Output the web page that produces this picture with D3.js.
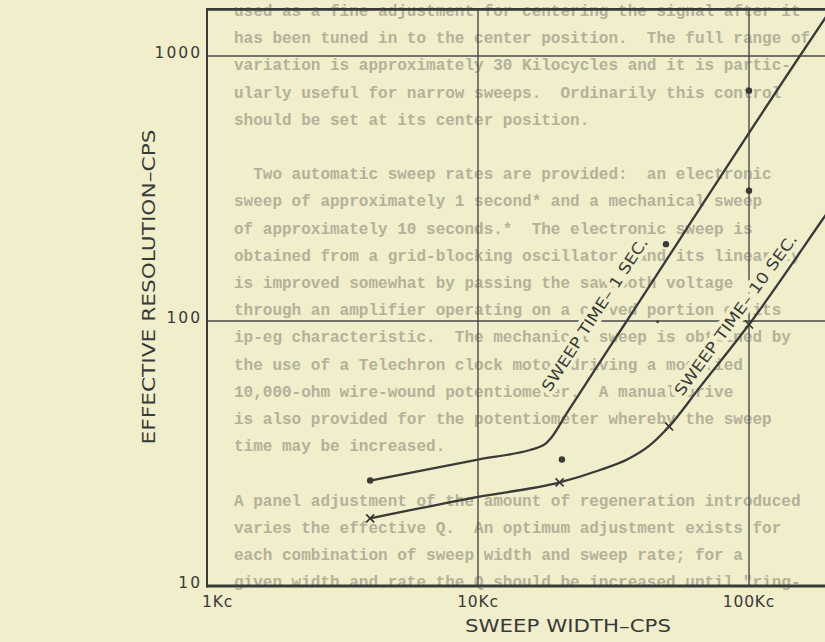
<!DOCTYPE html>
<html>
<head>
<meta charset="utf-8">
<script src="https://cdn.jsdelivr.net/npm/d3@7/dist/d3.min.js"></script>
<style>
  html, body { margin: 0; padding: 0; background: #f0eecb; }
  svg { display: block; }
</style>
</head>
<body>
<svg id="chart" width="825" height="642"></svg>
<script>
// ---------- data ----------
const xTickValues = [1e3, 1e4, 1e5];
const xTickLabels = ["1Kc", "10Kc", "100Kc"];
const yTickValues = [10, 100, 1000];
const yTickLabels = ["10", "100", "1000"];
const xTitle = "SWEEP WIDTH–CPS";
const yTitle = "EFFECTIVE RESOLUTION–CPS";

// sweep width (cps) vs effective resolution (cps)
const sweep1Sec = [[4000,25],[10000,30],[15560,32.6],[16650,33.3],[17670,34.3],[18600,36.2],[21300,45],[35400,100],[154000,1000],[200000,1490]];
const sweep10Sec = [[4000,18],[10000,21.7],[20000,24.6],[28200,27.4],[35500,30],[43100,34],[50700,40],[66000,56.4],[100000,97],[186000,240],[260000,395]];
const sweep1Markers = [[4000,25]];
const sweep10Markers = [[4000,18],[20000,24.6],[50700,40],[100000,97]];
const measuredDots = [[20400,30],[49400,195],[100000,740],[100000,310]];
const faintDots = [[46000,101]];
const label1 = "SWEEP TIME– 1 SEC.";
const label10 = "SWEEP TIME– 10 SEC.";
const frameTop = 1500;     // top edge of the printed grid (cps)
const frameRight = 1e6;    // grid runs off the page

// typed page text showing through the chart sheet
const pageText = [
  "used as a fine adjustment for centering the signal after it",
  "has been tuned in to the center position.  The full range of",
  "variation is approximately 30 Kilocycles and it is partic-",
  "ularly useful for narrow sweeps.  Ordinarily this control",
  "should be set at its center position.",
  "",
  "  Two automatic sweep rates are provided:  an electronic",
  "sweep of approximately 1 second* and a mechanical sweep",
  "of approximately 10 seconds.*  The electronic sweep is",
  "obtained from a grid-blocking oscillator, and its linearity",
  "is improved somewhat by passing the sawtooth voltage",
  "through an amplifier operating on a curved portion of its",
  "ip-eg characteristic.  The mechanical sweep is obtained by",
  "the use of a Telechron clock motor driving a modified",
  "10,000-ohm wire-wound potentiometer.  A manual drive",
  "is also provided for the potentiometer whereby the sweep",
  "time may be increased.",
  "",
  "A panel adjustment of the amount of regeneration introduced",
  "varies the effective Q.  An optimum adjustment exists for",
  "each combination of sweep width and sweep rate; for a",
  "given width and rate the Q should be increased until \"ring-"
];

// ---------- drawing ----------
const bg = "#f0eecb", ink = "#3a3a38";
const svg = d3.select("#chart");
const x = d3.scaleLog().domain([1e3, 1e5]).range([207, 749]);
const y = d3.scaleLog().domain([10, 1000]).range([586, 56]);
const font = "'DejaVu Sans', 'Liberation Sans', sans-serif";

// faint page text underneath
svg.append("g")
  .attr("font-family", "'Liberation Mono', 'DejaVu Sans Mono', monospace")
  .attr("font-size", 16).attr("font-weight", "bold")
  .attr("fill", "#b4b19a")
  .selectAll("text").data(pageText).join("text")
  .attr("x", 234).attr("y", (d, i) => 16 + i * 27.2)
  .attr("xml:space", "preserve").style("white-space", "pre")
  .text(d => d);

const grid = svg.append("g");
grid.selectAll("line.h").data([100, 1000]).join("line")
  .attr("x1", x(1e3)).attr("x2", x(frameRight))
  .attr("y1", d => y(d)).attr("y2", d => y(d))
  .attr("stroke", "#4a4a48").attr("stroke-width", 1.5);
grid.selectAll("line.v").data([1e4, 1e5]).join("line")
  .attr("x1", d => x(d)).attr("x2", d => x(d))
  .attr("y1", y(10)).attr("y2", y(frameTop))
  .attr("stroke", "#4a4a48").attr("stroke-width", 1.4);
grid.append("line").attr("x1", x(1e3) - 1).attr("x2", x(frameRight))
  .attr("y1", y(frameTop)).attr("y2", y(frameTop))
  .attr("stroke", ink).attr("stroke-width", 2.6);
grid.append("line").attr("x1", x(1e3)).attr("x2", x(1e3))
  .attr("y1", y(10) + 1.5).attr("y2", y(frameTop) - 1)
  .attr("stroke", ink).attr("stroke-width", 2);
grid.append("line").attr("x1", x(1e3) - 1).attr("x2", x(frameRight))
  .attr("y1", y(10)).attr("y2", y(10))
  .attr("stroke", ink).attr("stroke-width", 3);

// tick labels
svg.append("g").selectAll("text").data(yTickValues).join("text")
  .attr("x", x(1e3) - 5).attr("y", d => y(d) - 3)
  .attr("text-anchor", "end").attr("dominant-baseline", "central")
  .attr("font-family", font).attr("font-size", 15.5).attr("letter-spacing", 2)
  .attr("fill", ink)
  .text((d, i) => yTickLabels[i]);
svg.append("g").selectAll("text").data(xTickValues).join("text")
  .attr("x", (d, i) => i === 0 ? x(d) - 5 : x(d))
  .attr("y", y(10) + 16)
  .attr("text-anchor", (d, i) => i === 0 ? "start" : "middle")
  .attr("dominant-baseline", "central")
  .attr("font-family", font).attr("font-size", 15.5).attr("letter-spacing", 0.8)
  .attr("fill", ink)
  .text((d, i) => xTickLabels[i]);

// axis titles
svg.append("text")
  .attr("x", 568).attr("y", 625)
  .attr("text-anchor", "middle").attr("dominant-baseline", "central")
  .attr("font-family", font).attr("font-size", 18.5)
  .attr("textLength", 206).attr("lengthAdjust", "spacingAndGlyphs")
  .attr("fill", ink).text(xTitle);
svg.append("text")
  .attr("transform", `translate(148,287) rotate(-90)`)
  .attr("text-anchor", "middle").attr("dominant-baseline", "central")
  .attr("font-family", font).attr("font-size", 18.5)
  .attr("textLength", 315).attr("lengthAdjust", "spacingAndGlyphs")
  .attr("fill", ink).text(yTitle);

// curve labels (paper-coloured halo breaks the grid line beneath)
function curveLabel(text, pA, pB, anchor, offset, along, len) {
  const ax = x(pA[0]), ay = y(pA[1]), bx = x(pB[0]), by = y(pB[1]);
  const ang = Math.atan2(by - ay, bx - ax);
  const ux = Math.cos(ang), uy = Math.sin(ang);
  const nx = uy, ny = -ux;
  const px = x(anchor[0]) + nx * offset + ux * along;
  const py = y(anchor[1]) + ny * offset + uy * along;
  svg.append("text")
    .attr("transform", `translate(${px},${py}) rotate(${ang * 180 / Math.PI})`)
    .attr("text-anchor", "middle")
    .attr("font-family", font).attr("font-size", 15.5)
    .attr("textLength", len).attr("lengthAdjust", "spacingAndGlyphs")
    .attr("fill", ink).attr("stroke", bg).attr("stroke-width", 8)
    .attr("paint-order", "stroke").attr("stroke-linejoin", "round")
    .text(text);
}
curveLabel(label1, [35400,100], [154000,1000], [35400,100], 25, -12, 180);
curveLabel(label10, [66000,56.4], [186000,240], [100000,97], 11, 0, 196);

// curves
const line = d3.line().x(d => x(d[0])).y(d => y(d[1])).curve(d3.curveMonotoneX);
const curves = svg.append("g").attr("fill", "none").attr("stroke", ink)
  .attr("stroke-width", 2.3).attr("stroke-linecap", "round");
curves.append("path").attr("d", line(sweep1Sec));
curves.append("path").attr("d", line(sweep10Sec));

// markers
svg.append("g").selectAll("circle").data(sweep1Markers.concat(measuredDots)).join("circle")
  .attr("cx", d => x(d[0])).attr("cy", d => y(d[1])).attr("r", 3.2).attr("fill", ink);
svg.append("g").selectAll("circle").data(faintDots).join("circle")
  .attr("cx", d => x(d[0])).attr("cy", d => y(d[1]) + 2).attr("r", 1.4).attr("fill", ink);
const s = 4;
svg.append("g").selectAll("path").data(sweep10Markers).join("path")
  .attr("d", d => {
    const cx = x(d[0]), cy = y(d[1]);
    return `M${cx - s},${cy - s}L${cx + s},${cy + s}M${cx + s},${cy - s}L${cx - s},${cy + s}`;
  })
  .attr("stroke", ink).attr("stroke-width", 1.7).attr("fill", "none");
</script>
</body>
</html>
